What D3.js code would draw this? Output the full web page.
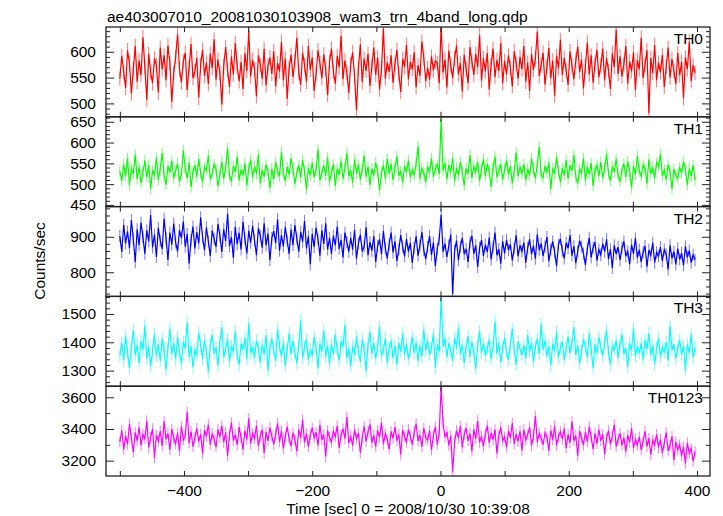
<!DOCTYPE html>
<html><head><meta charset="utf-8">
<script src="https://cdn.jsdelivr.net/npm/d3@7"></script>
<style>body{margin:0;background:#fff} svg text{font-family:"Liberation Sans",Arial,Helvetica,sans-serif;fill:#000}</style>
</head><body><svg id="c" width="723" height="516"></svg>
<script>
// ---- data (counts/sec, 3 s bins starting at t = -500 s) ----
const timeStart = -500, binSize = 3;
const th0 = [548,592,561,530,603,577,519,566,611,542,583,555,628,571,507,596,560,539,587,574,
521,608,566,593,545,612,578,503,559,590,634,567,541,582,598,526,570,615,549,562,
588,511,575,604,553,579,537,596,568,624,546,585,559,498,573,609,564,532,591,556,
617,571,543,580,528,597,563,641,552,584,566,514,593,575,548,606,535,572,589,557,
601,533,578,562,619,545,587,509,569,594,551,583,627,560,536,598,574,542,611,565,
589,524,557,603,578,549,595,567,516,580,606,561,538,592,570,631,547,583,559,520,
576,599,552,487,568,614,541,587,563,596,534,572,608,555,589,527,566,645,548,579,
561,593,540,576,604,558,522,586,571,613,547,580,566,599,531,574,553,620,588,543,
569,546,591,564,582,578,539,652,560,585,531,602,574,549,587,612,556,578,523,594,
567,539,609,581,555,596,570,632,544,588,562,598,527,575,606,551,584,563,617,539,
582,556,593,569,533,601,577,548,590,566,611,542,579,524,596,565,587,639,553,574,
598,536,571,607,549,583,515,592,568,623,555,588,564,536,601,574,547,582,610,561,
585,529,572,618,556,593,540,577,604,551,573,606,545,588,563,528,597,570,643,557,
591,552,576,611,538,581,562,599,526,584,566,627,549,575,603,481,588,559,613,545,
579,560,594,532,571,608,550,586,563,537,598,554,580,510,589,566,620,543,574,559];
const th1 = [531,508,547,519,562,498,536,525,571,512,541,503,529,557,517,546,489,533,522,564,
510,538,575,521,499,543,528,556,514,532,549,506,524,581,537,515,552,493,530,545,
518,560,527,504,541,533,569,511,526,548,536,495,523,554,513,539,586,520,507,544,
529,566,509,535,521,550,497,538,559,516,543,524,571,502,534,518,547,529,491,537,
512,553,530,519,577,526,508,541,523,562,535,501,528,546,515,558,532,487,539,521,
551,517,534,583,509,527,545,520,564,506,528,548,496,537,522,555,513,540,574,519,
533,503,559,525,547,511,536,568,518,542,499,537,521,552,530,485,527,546,514,561,
526,548,510,539,567,520,531,504,544,529,557,516,535,522,549,591,513,538,527,505,
541,530,562,518,536,547,524,655,533,551,512,546,528,563,507,539,521,554,530,497,
538,525,570,515,542,529,553,508,536,560,520,549,531,494,540,566,517,533,548,511,
535,557,523,544,502,530,576,519,541,526,548,509,537,521,561,534,514,547,589,522,
516,543,529,552,488,538,524,565,531,505,539,521,558,513,545,532,570,518,502,536,
527,562,509,541,524,551,496,534,546,519,553,515,538,573,526,508,542,529,561,520,
506,533,549,517,555,530,492,544,523,567,531,519,546,538,501,559,525,540,514,552,
543,572,520,534,511,547,530,489,536,521,514,541,526,555,533,499,538,519,545,510];
const th2 = [902,857,934,881,915,868,947,893,829,921,876,940,899,852,918,887,961,870,906,843,
925,889,866,951,897,835,912,878,937,884,859,919,896,943,872,908,825,891,929,867,
913,881,955,898,862,926,887,846,917,894,871,936,903,857,921,888,965,874,899,840,
928,879,911,864,942,895,853,917,883,931,890,848,924,902,869,938,876,909,834,897,
916,882,949,861,905,873,927,889,852,920,877,933,895,858,914,886,944,868,901,823,
908,871,926,893,847,918,880,938,864,897,852,903,876,929,866,891,842,912,885,858,
897,864,919,838,881,906,859,873,927,848,885,861,902,829,874,893,851,916,868,839,
879,912,856,887,831,864,905,872,845,894,858,883,826,869,901,847,876,913,862,837,
871,902,849,884,818,866,893,962,858,881,843,875,906,738,861,889,834,872,897,851,
866,829,884,903,852,876,815,869,891,846,878,857,898,836,871,912,848,865,824,887,
853,891,862,879,833,868,904,845,876,859,884,827,869,893,851,875,838,907,862,881,
846,872,899,831,864,887,856,818,878,894,861,839,883,868,905,847,874,826,859,889,
872,853,821,866,897,842,870,885,833,864,849,881,858,893,837,865,812,876,851,871,
834,868,887,845,859,823,878,852,896,841,863,829,857,874,816,862,848,883,827,856,
845,871,832,864,851,808,876,839,858,822,867,836,854,819,873,842,861,827,849,835];
const th3 = [1352,1398,1337,1421,1365,1309,1384,1442,1356,1391,1327,1405,1373,1459,1342,1388,1316,1369,1430,1351,
1394,1334,1412,1375,1303,1381,1448,1359,1397,1340,1418,1366,1325,1402,1379,1470,1348,1386,1312,1372,
1357,1433,1389,1341,1408,1364,1297,1393,1426,1361,1382,1318,1401,1453,1347,1376,1411,1332,1387,1368,
1439,1355,1321,1395,1374,1416,1340,1467,1363,1384,1346,1407,1378,1329,1392,1358,1425,1301,1380,1413,
1371,1335,1447,1386,1350,1399,1319,1377,1431,1357,1404,1362,1326,1390,1478,1344,1383,1410,1338,1375,
1352,1419,1380,1308,1396,1367,1441,1349,1388,1324,1393,1359,1427,1373,1336,1402,1385,1461,1343,1378,
1315,1387,1354,1420,1369,1331,1409,1376,1299,1391,1436,1361,1398,1342,1384,1455,1353,1372,1414,1328,
1379,1406,1345,1388,1322,1397,1366,1432,1357,1394,1340,1375,1419,1363,1400,1334,1389,1350,1444,1371,
1405,1356,1382,1428,1311,1392,1368,1555,1386,1413,1348,1397,1370,1335,1416,1379,1451,1358,1391,1327,
1383,1422,1349,1401,1366,1307,1388,1439,1362,1395,1354,1377,1410,1341,1385,1473,1360,1398,1329,1381,
1417,1365,1338,1392,1448,1371,1320,1403,1376,1355,1390,1343,1426,1367,1398,1332,1384,1412,1359,1464,
1374,1406,1351,1387,1318,1395,1369,1437,1346,1381,1403,1337,1378,1421,1362,1394,1453,1356,1389,1325,
1368,1411,1384,1347,1430,1375,1310,1393,1360,1418,1382,1353,1399,1442,1366,1321,1387,1374,1406,1345,
1391,1428,1359,1380,1313,1397,1371,1449,1350,1385,1362,1396,1339,1408,1377,1432,1355,1390,1324,1379,
1415,1349,1383,1366,1401,1336,1458,1372,1394,1341,1376,1409,1357,1386,1302,1392,1363,1427,1348,1381];
const th0123 = [3318,3392,3271,3356,3305,3431,3342,3254,3379,3326,3411,3297,3365,3338,3452,3283,3347,3402,3219,3361,
3324,3387,3293,3448,3335,3372,3268,3399,3341,3306,3375,3262,3416,3331,3359,3506,3311,3384,3289,3346,
3403,3320,3367,3244,3392,3353,3427,3301,3369,3337,3285,3398,3349,3421,3316,3378,3231,3362,3440,3327,
3364,3299,3412,3345,3270,3389,3334,3467,3308,3371,3339,3422,3291,3357,3395,3248,3380,3325,3409,3353,
3302,3368,3435,3319,3386,3277,3351,3413,3336,3292,3376,3329,3258,3397,3344,3458,3315,3370,3287,3361,
3408,3343,3379,3296,3426,3332,3365,3226,3390,3348,3317,3384,3352,3419,3280,3363,3401,3339,3475,3310,
3356,3293,3396,3337,3374,3251,3343,3417,3322,3381,3429,3314,3360,3288,3391,3347,3440,3305,3369,3334,
3273,3385,3341,3412,3326,3366,3239,3393,3350,3318,3397,3355,3301,3378,3433,3324,3362,3286,3405,3345,
3331,3389,3267,3358,3414,3302,3373,3665,3436,3348,3382,3296,3357,3130,3319,3391,3340,3418,3283,3364,
3406,3325,3371,3259,3397,3338,3452,3316,3354,3290,3368,3421,3312,3375,3333,3396,3246,3359,3410,3327,
3350,3284,3389,3342,3437,3306,3367,3322,3385,3265,3395,3331,3363,3411,3294,3355,3482,3318,3372,3340,
3301,3376,3348,3262,3391,3330,3419,3297,3352,3383,3336,3402,3279,3365,3313,3447,3326,3359,3231,3388,
3344,3298,3381,3320,3413,3349,3272,3373,3307,3396,3325,3367,3241,3342,3390,3303,3356,3427,3289,3335,
3372,3296,3345,3258,3361,3316,3404,3281,3334,3298,3350,3268,3321,3385,3289,3342,3237,3329,3300,3366,
3283,3334,3249,3310,3378,3262,3297,3353,3205,3318,3269,3301,3228,3287,3183,3312,3247,3275,3196,3258];
// typical 1-sigma error bar half-length per band (counts/sec)
const bandErrors = [14, 13, 17, 22, 34];

const bandNames = ["TH0","TH1","TH2","TH3","TH0123"];
const bandSeries = [th0, th1, th2, th3, th0123];
const yDomains = [[474,648],[446,662],[732,985],[1245,1562],[3103,3670]];
const yMajorStep = [50,50,100,100,200];
const yMinorStep = [10,10,20,20,100];
const xDomain = [-521.6, 420.3];
const xMajorTicks = [-400,-200,0,200,400];
const xAllTicks = [-500,-400,-300,-200,-100,0,100,200,300,400];
const titleText = "ae403007010_20081030103908_wam3_trn_4band_long.qdp";
const xTitle = "Time [sec] 0 = 2008/10/30 10:39:08";
const yTitle = "Counts/sec";

// ---- styles ----
const bandColors = ["#ff0000","#00ff00","#0000ff","#00ffff","#ff00ff"];
const fontSize = 15.5;

// ---- layout ----
const svg = d3.select("#c");
const L = 106, R = 710, T = 27, B = 476;
const ph = (B - T) / bandSeries.length;
const x = d3.scaleLinear().domain(xDomain).range([L, R]);

function stepTicks(dom, step) {
  return d3.range(Math.ceil(dom[0] / step - 1e-9) * step, dom[1] + 1e-9, step);
}

bandSeries.forEach((vals, k) => {
  const top = T + k * ph, bot = top + ph;
  const y = d3.scaleLinear().domain(yDomains[k]).range([bot, top]);
  const g = svg.append("g");
  const cid = "clip" + k;
  svg.append("clipPath").attr("id", cid).append("rect")
    .attr("x", L).attr("y", top).attr("width", R - L).attr("height", ph);

  const dg = g.append("g").attr("clip-path", `url(#${cid})`);
  const e = bandErrors[k];
  dg.selectAll("line.err").data(vals).join("line").attr("class", "err")
    .attr("x1", (d, i) => x(timeStart + i * binSize)).attr("x2", (d, i) => x(timeStart + i * binSize))
    .attr("y1", d => y(d - e)).attr("y2", d => y(d + e))
    .attr("stroke", bandColors[k]).attr("stroke-opacity", 0.5).attr("stroke-width", 1.1);

  const line = d3.line().x((d, i) => x(timeStart + i * binSize)).y(d => y(d));
  dg.append("path").datum(vals)
    .attr("fill", "none").attr("stroke", bandColors[k]).attr("stroke-width", 1.2)
    .attr("d", line);

  const majors = stepTicks(yDomains[k], yMajorStep[k]);
  const minors = stepTicks(yDomains[k], yMinorStep[k]).filter(v => !majors.includes(v));

  const styleAxis = sel => { sel.select(".domain").remove(); sel.selectAll("line").attr("stroke", "#222"); sel.selectAll("text").style("font-size", fontSize + "px").attr("fill", "#000"); };

  g.append("g").attr("transform", `translate(${L},0)`)
    .call(d3.axisLeft(y).tickValues(majors).tickSize(-8).tickPadding(10).tickFormat(d3.format("d")))
    .call(styleAxis);
  g.append("g").attr("transform", `translate(${L},0)`)
    .call(d3.axisLeft(y).tickValues(minors).tickSize(-4).tickFormat(""))
    .call(styleAxis);
  g.append("g").attr("transform", `translate(${R},0)`)
    .call(d3.axisRight(y).tickValues(majors).tickSize(-8).tickFormat(""))
    .call(styleAxis);
  g.append("g").attr("transform", `translate(${R},0)`)
    .call(d3.axisRight(y).tickValues(minors).tickSize(-4).tickFormat(""))
    .call(styleAxis);

  g.append("g").attr("transform", `translate(0,${top})`)
    .call(d3.axisTop(x).tickValues(xAllTicks).tickSize(-5).tickFormat(""))
    .call(styleAxis);
  g.append("g").attr("transform", `translate(0,${bot})`)
    .call(d3.axisBottom(x).tickValues(xAllTicks).tickSize(-5).tickPadding(9)
      .tickFormat(d => (k === bandSeries.length - 1 && xMajorTicks.includes(d)) ? d3.format("d")(d) : ""))
    .call(styleAxis);

  g.append("rect").attr("x", L).attr("y", top).attr("width", R - L).attr("height", ph)
    .attr("fill", "none").attr("stroke", "#222").attr("stroke-width", 1.3);

  g.append("text").attr("x", 703).attr("y", top + 17).attr("text-anchor", "end")
    .style("font-size", fontSize + "px").text(bandNames[k]);
});

svg.append("text").attr("x", 107).attr("y", 22).style("font-size", fontSize + "px").text(titleText);
svg.append("text").attr("x", (L + R) / 2).attr("y", 514).attr("text-anchor", "middle")
  .style("font-size", fontSize + "px").text(xTitle);
svg.append("text").attr("transform", "translate(45,261) rotate(-90)").attr("text-anchor", "middle")
  .style("font-size", fontSize + "px").text(yTitle);
</script>
</body></html>
